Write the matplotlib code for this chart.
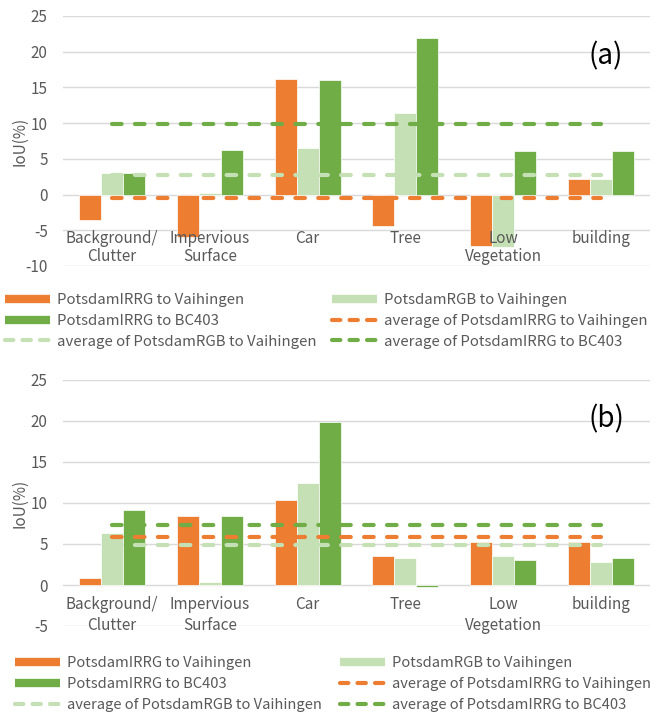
import numpy as np
import matplotlib
matplotlib.use('Agg')
import matplotlib.pyplot as plt
from matplotlib.lines import Line2D

plt.rcParams['font.family'] = ['Noto Sans CJK SC', 'DejaVu Sans']
plt.rcParams['axes.unicode_minus'] = False

# categories and values
categories = ['Background/\nClutter', 'Impervious\nSurface', 'Car', 'Tree', 'Low\nVegetation', 'building']
series_names = ['PotsdamIRRG to Vaihingen', 'PotsdamRGB to Vaihingen', 'PotsdamIRRG to BC403']
avg_names = ['average of PotsdamIRRG to Vaihingen', 'average of PotsdamRGB to Vaihingen',
             'average of PotsdamIRRG to BC403']

a_irrg_vai = [-3.6, -5.9, 16.2, -4.4, -7.2, 2.2]
a_rgb_vai = [3.0, 0.2, 6.5, 11.4, -7.4, 2.2]
a_irrg_bc = [3.0, 6.3, 16.0, 21.9, 6.1, 6.1]
a_avg = [-0.55, 2.75, 9.9]

b_irrg_vai = [0.8, 8.4, 10.4, 3.5, 5.3, 5.3]
b_rgb_vai = [6.4, 0.4, 12.4, 3.3, 3.5, 2.8]
b_irrg_bc = [9.2, 8.4, 19.9, -0.2, 3.1, 3.3]
b_avg = [5.8, 4.9, 7.3]

colors = ['#ED7D31', '#C5E0B4', '#70AD47']
text_c = '#595959'
grid_c = '#D9D9D9'
dash = (2.3, 3.2)

fig = plt.figure(figsize=(6.56, 7.27), dpi=100)


def panel(rect, series, avgs, ylim, tag, label_y, linesp):
    ax = fig.add_axes(rect)
    x = np.arange(len(categories))
    w = 0.225
    for i, (vals, c) in enumerate(zip(series, colors)):
        ax.bar(x + (i - 1) * w, vals, width=w, color=c, edgecolor='white',
               linewidth=0.5, zorder=2)
    for avg, c in zip(avgs, colors):
        ax.plot([x[0], x[-1]], [avg, avg], color=c, lw=3, dashes=dash,
                dash_capstyle='round', zorder=3)
    ax.set_xlim(-0.5, len(categories) - 0.5)
    ax.set_ylim(*ylim)
    ax.set_yticks(np.arange(ylim[0], ylim[1] + 1, 5))
    ax.set_xticks([])
    ax.grid(axis='y', color=grid_c, lw=1, zorder=0)
    ax.set_axisbelow(True)
    for s in ax.spines.values():
        s.set_visible(False)
    ax.tick_params(axis='y', length=0, pad=11, labelsize=11, labelcolor=text_c)
    ax.set_ylabel('IoU(%)', color=text_c, fontsize=11, va='center')
    ax.yaxis.set_label_coords(-0.073, 0.5)
    for xi, lab in zip(x, categories):
        ax.text(xi, label_y, lab, ha='center', va='top', fontsize=11,
                color=text_c, linespacing=linesp, zorder=5)
    ax.text(0.925, 0.84, tag, transform=ax.transAxes, ha='center', va='center',
            fontsize=20, color='black')
    return ax


def legends(y_top, x_left, x_right, fs):
    bar_h = [Line2D([], [], color=c, lw=6, solid_capstyle='butt') for c in colors]
    avg_h = [Line2D([], [], color=c, lw=3, dashes=(2.0, 2.2), dash_capstyle='round')
             for c in colors]
    col1 = ([bar_h[0], bar_h[2], avg_h[1]], [series_names[0], series_names[2], avg_names[1]])
    col2 = ([bar_h[1], avg_h[0], avg_h[2]], [series_names[1], avg_names[0], avg_names[2]])
    for (h, l), xl in ((col1, x_left), (col2, x_right)):
        fig.legend(h, l, loc='upper left', bbox_to_anchor=(xl / 656, 1 - y_top / 727),
                   frameon=False, fontsize=fs, labelcolor=text_c, borderpad=0,
                   borderaxespad=0, handlelength=2.95 * 11 / fs, handletextpad=0.45,
                   labelspacing=0.45 * 11 / fs)


panel([63 / 656, 1 - 266 / 727, 587 / 656, 250 / 727],
      [a_irrg_vai, a_rgb_vai, a_irrg_bc], a_avg, (-10, 25), '(a)', -5.0, 1.05)
legends(293, 5, 332, 10.8)

panel([63 / 656, 1 - 626 / 727, 587 / 656, 246 / 727],
      [b_irrg_vai, b_rgb_vai, b_irrg_bc], b_avg, (-5, 25), '(b)', -1.4, 1.3)
legends(656, 15, 340, 10.6)

fig.savefig('out.png', dpi=100)
